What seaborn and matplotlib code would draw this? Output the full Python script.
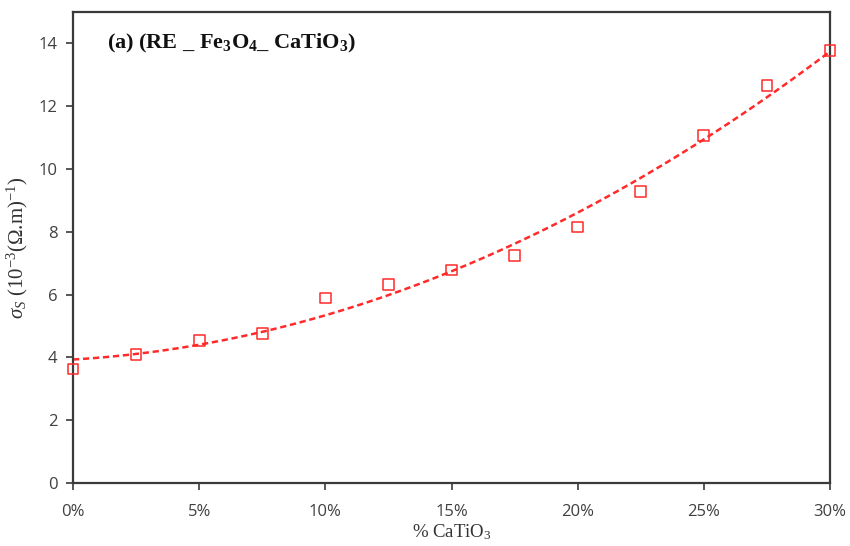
import matplotlib
matplotlib.use("Agg")
import matplotlib.pyplot as plt
import seaborn as sns
import numpy as np
import pandas as pd
from matplotlib.ticker import FuncFormatter

# Data
catio3_pct = [0, 2.5, 5, 7.5, 10, 12.5, 15, 17.5, 20, 22.5, 25, 27.5, 30]
sigma_s = [3.63, 4.10, 4.55, 4.77, 5.89, 6.33, 6.78, 7.25, 8.15, 9.29, 11.07, 12.66, 13.78]
x_ticks = [0, 5, 10, 15, 20, 25, 30]
y_ticks = [0, 2, 4, 6, 8, 10, 12, 14]

df = pd.DataFrame({"x": catio3_pct, "y": sigma_s})

sns.set_style("white")
plt.rcParams["font.family"] = ["Open Sans", "DejaVu Sans"]
plt.rcParams["mathtext.fontset"] = "custom"
plt.rcParams["mathtext.rm"] = "Liberation Serif"
plt.rcParams["mathtext.it"] = "Liberation Serif:italic"
plt.rcParams["mathtext.bf"] = "Liberation Serif:bold"

fig = plt.figure(figsize=(8.5, 5.46), dpi=100)
ax = fig.add_axes([73/850, 1 - 483/546, (830 - 73)/850, (483 - 12)/546])

red = "#ff2a2a"
sns.regplot(data=df, x="x", y="y", order=2, ci=None, scatter=False, ax=ax,
            truncate=True,
            line_kws=dict(color=red, lw=1.8, ls=(0, (2.5, 1.5))))
sns.scatterplot(data=df, x="x", y="y", ax=ax, marker="s", s=60,
                facecolor="none", edgecolor=red, linewidth=1.1, zorder=3,
                clip_on=False)

ax.set_xlim(0, 30)
ax.set_ylim(0, 15)
ax.set_xticks(x_ticks)
ax.set_yticks(y_ticks)
ax.xaxis.set_major_formatter(FuncFormatter(lambda v, p: f"{v:.0f}%"))

for s in ax.spines.values():
    s.set_color("#3a3a3a")
    s.set_linewidth(1.6)

ax.tick_params(axis="both", which="major", direction="out", length=5, width=1.2,
               color="#3a3a3a", labelsize=12, labelcolor="#404040",
               bottom=True, left=True)
ax.tick_params(axis="x", pad=10)
ax.tick_params(axis="y", pad=6)

ax.set_xlabel(r"% CaTiO$_3$", family="Liberation Serif", fontsize=13.5,
              color="#333333", labelpad=2)
ax.set_ylabel(r"$\mathit{\sigma_S}$ (10$^{-3}$($\Omega$.m)$^{-1}$)",
              family="Liberation Serif", fontsize=15, color="#333333", labelpad=6)

ax.text(0.045, 0.933, r"(a) (RE _ $\mathbf{Fe_3O_4}$_ $\mathbf{CaTiO_3}$)",
        transform=ax.transAxes, family="Liberation Serif", fontweight="bold",
        fontsize=16, color="#111111", va="center", ha="left")

fig.savefig("out.png", dpi=100)
